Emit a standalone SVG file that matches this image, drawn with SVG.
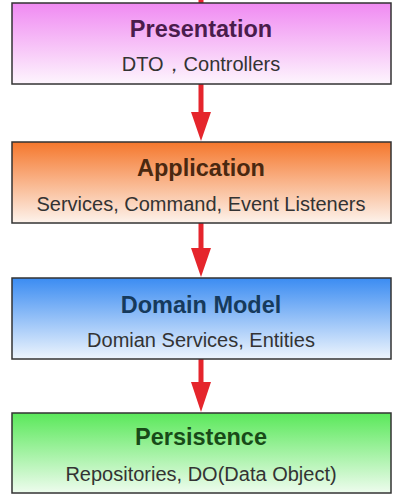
<svg xmlns="http://www.w3.org/2000/svg" width="401" height="498" viewBox="0 0 401 498">
<defs>
<linearGradient id="gP" x1="0" y1="0" x2="0" y2="1"><stop offset="0" stop-color="#f08af2"/><stop offset="1" stop-color="#fdf5fd"/></linearGradient>
<linearGradient id="gA" x1="0" y1="0" x2="0" y2="1"><stop offset="0" stop-color="#f5772c"/><stop offset="1" stop-color="#fdf3ec"/></linearGradient>
<linearGradient id="gD" x1="0" y1="0" x2="0" y2="1"><stop offset="0" stop-color="#3b8cf2"/><stop offset="1" stop-color="#eef5fd"/></linearGradient>
<linearGradient id="gR" x1="0" y1="0" x2="0" y2="1"><stop offset="0" stop-color="#5ae85a"/><stop offset="1" stop-color="#eefcee"/></linearGradient>
</defs>
<style>
.box{stroke:#333;stroke-width:1.5}
.t{font-family:"Liberation Sans","Noto Sans",sans-serif;font-weight:bold;font-size:23.5px;text-anchor:middle}
.s{font-family:"Liberation Sans","Noto Sans",sans-serif;font-size:20px;text-anchor:middle;fill:#333}
.c{stroke:#e5252c;stroke-width:5;fill:none}
.h{fill:#e5252c}
</style>
<g id="connectors">
<line class="c" x1="201" y1="0" x2="201" y2="3"/>
<line class="c" x1="201" y1="84" x2="201" y2="114"/>
<path class="h" d="M191,112 L211,112 L201,141 Z"/>
<line class="c" x1="201" y1="223" x2="201" y2="250"/>
<path class="h" d="M191,248 L211,248 L201,277 Z"/>
<line class="c" x1="201" y1="359" x2="201" y2="384"/>
<path class="h" d="M191,382 L211,382 L201,412 Z"/>
</g>
<g id="presentation">
<rect class="box" x="12" y="3" width="379" height="81" fill="url(#gP)"/>
<text class="t" x="201" y="37" fill="#4a1c4c">Presentation</text>
<text class="s" x="201" y="71">DTO，Controllers</text>
</g>
<g id="application">
<rect class="box" x="12" y="142" width="379" height="81" fill="url(#gA)"/>
<text class="t" x="201" y="176" fill="#4a2810">Application</text>
<text class="s" x="201" y="211">Services, Command, Event Listeners</text>
</g>
<g id="domain">
<rect class="box" x="12" y="278" width="379" height="81" fill="url(#gD)"/>
<text class="t" x="201" y="313" fill="#163a5c">Domain Model</text>
<text class="s" x="201" y="347">Domian Services, Entities</text>
</g>
<g id="persistence">
<rect class="box" x="12" y="413" width="379" height="80" fill="url(#gR)"/>
<text class="t" x="201" y="445" fill="#184a18">Persistence</text>
<text class="s" x="201" y="481">Repositories, DO(Data Object)</text>
</g>
</svg>
